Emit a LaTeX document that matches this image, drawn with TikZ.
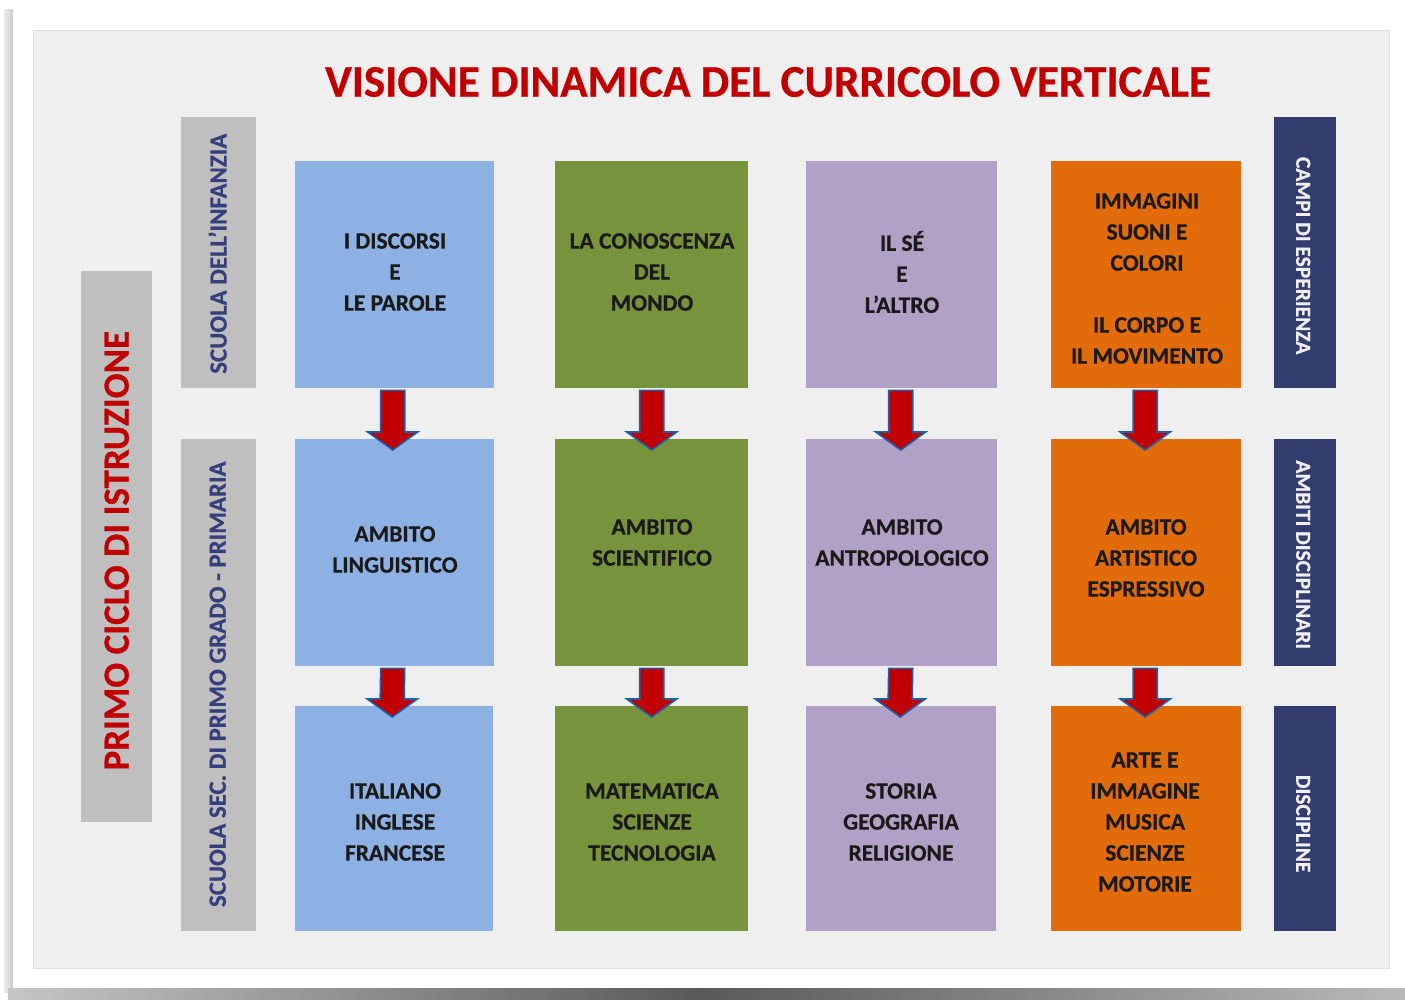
\documentclass[tikz,border=0pt]{standalone}
\usepackage{fontspec}
\setmainfont{Carlito}[BoldFeatures={FakeBold=0.6}]
\usetikzlibrary{calc}
\definecolor{panelbg}{HTML}{EFEFEF}
\definecolor{cblue}{HTML}{8EB1E3}
\definecolor{cgreen}{HTML}{77933C}
\definecolor{cpurple}{HTML}{B2A1C7}
\definecolor{corange}{HTML}{E26B0A}
\definecolor{cgray}{HTML}{BFBFBF}
\definecolor{cnavy}{HTML}{323C6E}
\definecolor{ctitle}{HTML}{C00000}
\definecolor{cside}{HTML}{343F7C}
\definecolor{carrowfill}{HTML}{C00000}
\definecolor{carrowline}{HTML}{1F5FA8}
\definecolor{ctext}{HTML}{1A1A1A}
\tikzset{
  box/.style={draw=none, inner sep=0pt, anchor=north west},
  boxtext/.style={align=center, text=ctext, font=\fontsize{23.5}{31}\selectfont\bfseries},
  sidetext/.style={text=cside, font=\fontsize{24.8}{30}\selectfont\bfseries},
  navytext/.style={text=white!92!cnavy, font=\fontsize{21.5}{26}\selectfont\bfseries},
  bigarrow/.style={fill=carrowfill, draw=carrowline, line width=1.6pt, line join=miter},
}
\begin{document}
\begin{tikzpicture}[x=1pt,y=-1pt]
\useasboundingbox (0,0) rectangle (1405,1000);
% page and shadow
\fill[white] (0,0) rectangle (1405,1000);
\shade[left color=gray!15, right color=gray!45] (4,10) rectangle (14,992);
\shade[left color=gray!45, right color=black!65] (8,988) rectangle (700,1000);
\shade[left color=black!65, right color=gray!55] (700,988) rectangle (1405,1000);
\fill[white] (13,8) rectangle (1405,988);
% inner panel
\fill[panelbg, draw=gray!25, line width=0.8pt] (33,30) rectangle (1389,968);
% title
\node[text=ctitle, font=\fontsize{45.2}{50}\selectfont\bfseries] (title) at (768,82) {VISIONE DINAMICA DEL CURRICOLO VERTICALE};
% left labels
\node[box, fill=cgray, minimum width=71pt, minimum height=551pt] (primo) at (81,271) {};
\node[rotate=90, text=ctitle, font=\fontsize{37}{40}\selectfont\bfseries] (primot) at ($(primo.center)+(0,4)$) {PRIMO CICLO DI ISTRUZIONE};
\node[box, fill=cgray, minimum width=75pt, minimum height=271pt] (inf) at (181,117) {};
\node[rotate=90, sidetext] (inft) at ($(inf.center)+(-1,1)$) {SCUOLA DELL’INFANZIA};
\node[box, fill=cgray, minimum width=75pt, minimum height=492pt] (prim) at (181,439) {};
\node[rotate=90, sidetext] (primt) at ($(prim.center)+(-1,-1)$) {SCUOLA SEC. DI PRIMO GRADO - PRIMARIA};
% right labels
\node[box, fill=cnavy, minimum width=62pt, minimum height=271pt] (campi) at (1274,117) {};
\node[rotate=-90, navytext] (campit) at ($(campi.center)+(-2,3)$) {CAMPI DI ESPERIENZA};
\node[box, fill=cnavy, minimum width=62pt, minimum height=227pt] (ambiti) at (1274,439) {};
\node[rotate=-90, navytext] (ambitit) at ($(ambiti.center)+(-2,2)$) {AMBITI DISCIPLINARI};
\node[box, fill=cnavy, minimum width=62pt, minimum height=225pt] (disc) at (1274,706) {};
\node[rotate=-90, navytext] (disct) at ($(disc.center)+(-2,5)$) {DISCIPLINE};
% column boxes
\node[box, fill=cblue, minimum width=199pt, minimum height=227pt] (a1) at (295,161) {};
\node[box, fill=cblue, minimum width=199pt, minimum height=227pt] (a2) at (295,439) {};
\node[box, fill=cblue, minimum width=198pt, minimum height=225pt] (a3) at (295,706) {};
\node[box, fill=cgreen, minimum width=193pt, minimum height=227pt] (b1) at (555,161) {};
\node[box, fill=cgreen, minimum width=193pt, minimum height=227pt] (b2) at (555,439) {};
\node[box, fill=cgreen, minimum width=193pt, minimum height=225pt] (b3) at (555,706) {};
\node[box, fill=cpurple, minimum width=191pt, minimum height=227pt] (c1) at (806,161) {};
\node[box, fill=cpurple, minimum width=191pt, minimum height=227pt] (c2) at (806,439) {};
\node[box, fill=cpurple, minimum width=190pt, minimum height=225pt] (c3) at (806,706) {};
\node[box, fill=corange, minimum width=190pt, minimum height=227pt] (d1) at (1051,161) {};
\node[box, fill=corange, minimum width=190pt, minimum height=227pt] (d2) at (1051,439) {};
\node[box, fill=corange, minimum width=190pt, minimum height=225pt] (d3) at (1051,706) {};
% texts
\node[boxtext] (a1t) at (395,272) {I DISCORSI\\E\\LE PAROLE};
\node[boxtext] (b1t) at (652,272) {LA CONOSCENZA\\DEL\\MONDO};
\node[boxtext] (c1t) at (902,272) {IL SÉ\\E\\L’ALTRO};
\node[boxtext] (d1t) at (1147,278.5) {IMMAGINI\\SUONI E\\COLORI\\[31pt]IL CORPO E\\IL MOVIMENTO};
\node[boxtext] (a2t) at (395,549.5) {AMBITO\\LINGUISTICO};
\node[boxtext] (b2t) at (652,542.5) {AMBITO\\SCIENTIFICO};
\node[boxtext] (c2t) at (902,542.5) {AMBITO\\ANTROPOLOGICO};
\node[boxtext] (d2t) at (1146,558) {AMBITO\\ARTISTICO\\ESPRESSIVO};
\node[boxtext] (a3t) at (395,822) {ITALIANO\\INGLESE\\FRANCESE};
\node[boxtext] (b3t) at (652,822) {MATEMATICA\\SCIENZE\\TECNOLOGIA};
\node[boxtext] (c3t) at (901,822) {STORIA\\GEOGRAFIA\\RELIGIONE};
\node[boxtext] (d3t) at (1145,822) {ARTE E\\IMMAGINE\\MUSICA\\SCIENZE\\MOTORIE};
% arrows
\foreach \u/\l/\dx in {a1/a2/-2, b1/b2/0, c1/c2/-1, d1/d2/-1, a2/a3/-2, b2/b3/0, c2/c3/-1, d2/d3/-1}{
  \draw[bigarrow]
    ($(\u.south)+(\dx,0)+(-12,2)$) -- ($(\u.south)+(\dx,0)+(12,2)$) --
    ($(\l.north)+(\dx,0)+(12,-7)$) -- ($(\l.north)+(\dx,0)+(25,-7)$) --
    ($(\l.north)+(\dx,0)+(0,11)$) -- ($(\l.north)+(\dx,0)+(-25,-7)$) --
    ($(\l.north)+(\dx,0)+(-12,-7)$) -- cycle;
}
\end{tikzpicture}
\end{document}
